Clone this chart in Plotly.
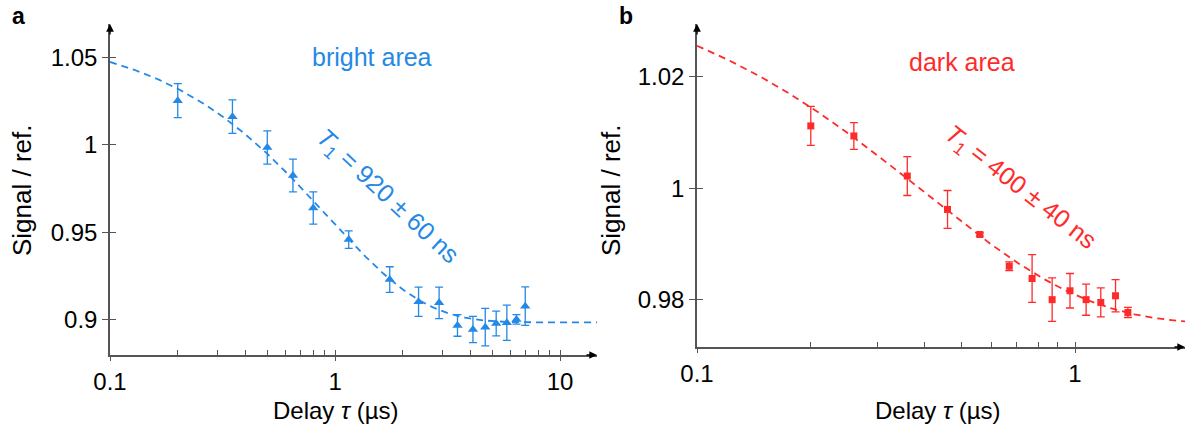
import numpy as np
import plotly.graph_objects as go

# ---- measured data -------------------------------------------------------
# (a) bright area
t_bright = [0.20, 0.35, 0.50, 0.65, 0.80, 1.15, 1.75, 2.35, 2.9, 3.5, 4.1, 4.65, 5.2, 5.8, 6.4, 7.0]
s_bright = [1.0252, 1.0161, 0.9985, 0.9825, 0.9639, 0.9459, 0.9231, 0.9104, 0.9098, 0.8969,
            0.8946, 0.8959, 0.8980, 0.8984, 0.9003, 0.9079]
e_bright = [0.0097, 0.0096, 0.0095, 0.0094, 0.0092, 0.0050, 0.0073, 0.0083, 0.0090, 0.0062,
            0.0075, 0.0107, 0.0071, 0.0101, 0.0027, 0.0110]

# (b) dark area
t_dark = [0.20, 0.26, 0.36, 0.46, 0.56, 0.67, 0.77, 0.87, 0.97, 1.07, 1.17, 1.28, 1.38]
s_dark = [1.0112, 1.0094, 1.0022, 0.9962, 0.9917, 0.9860, 0.9838, 0.9800, 0.9816, 0.9800,
          0.9795, 0.9807, 0.9777]
e_dark = [0.0035, 0.0024, 0.0035, 0.0034, 0.0003, 0.0008, 0.0043, 0.0039, 0.0031, 0.0028,
          0.0026, 0.0029, 0.0009]

# ---- exponential fits  y = offset + amp * exp(-t / T1) ---------------------
T1_bright, amp_bright, off_bright = 0.92, 0.1658, 0.8986
T1_dark, amp_dark, off_dark = 0.40, 0.0642, 0.9756

BLUE = "#2489e6"
RED = "#ff2b2b"
AXIS = "#555555"
FONT = "Liberation Sans, Arial, sans-serif"

xa_range = [-1, 1.164]
ya_range = [0.880, 1.069]
xb_range = [-1, 0.291]
yb_range = [0.9715, 1.0295]

W, H = 1194, 432
dom_xa = [110 / W, 597 / W]
dom_ya = [(H - 355) / H, (H - 24) / H]
dom_xb = [697 / W, 1185 / W]
dom_yb = [(H - 347) / H, (H - 24) / H]

ta = np.logspace(xa_range[0], xa_range[1], 300)
tb = np.logspace(xb_range[0], xb_range[1], 300)
fit_a = off_bright + amp_bright * np.exp(-ta / T1_bright)
fit_b = off_dark + amp_dark * np.exp(-tb / T1_dark)

fig = go.Figure()

fig.add_trace(go.Scatter(x=ta, y=fit_a, mode="lines", xaxis="x", yaxis="y",
                         line=dict(color=BLUE, width=1.8, dash="7px,5px"), hoverinfo="skip"))
fig.add_trace(go.Scatter(x=t_bright, y=s_bright, mode="markers", xaxis="x", yaxis="y",
                         marker=dict(symbol="triangle-up", size=9, color=BLUE),
                         error_y=dict(type="data", array=e_bright, color=BLUE, thickness=1.3, width=4)))

fig.add_trace(go.Scatter(x=tb, y=fit_b, mode="lines", xaxis="x2", yaxis="y2",
                         line=dict(color=RED, width=1.8, dash="7px,5px"), hoverinfo="skip"))
fig.add_trace(go.Scatter(x=t_dark, y=s_dark, mode="markers", xaxis="x2", yaxis="y2",
                         marker=dict(symbol="square", size=7, color=RED),
                         error_y=dict(type="data", array=e_dark, color=RED, thickness=1.3, width=4)))


def minor_vals(lo, hi):
    vals = []
    for d in range(int(np.floor(lo)), int(np.ceil(hi)) + 1):
        for m in range(1, 10):
            v = m * 10.0 ** d
            if 10 ** lo - 1e-9 <= v <= 10 ** hi:
                vals.append(v)
    return vals


tick_font = dict(family=FONT, size=24, color="black")

base_x = dict(type="log", showgrid=False, zeroline=False, showline=True, linecolor=AXIS,
              linewidth=1.5, ticks="outside", ticklen=4, tickcolor=AXIS, tickwidth=1,
              tickfont=tick_font, tickmode="array", automargin=False)
base_y = dict(showgrid=False, zeroline=False, showline=True, linecolor=AXIS, linewidth=1.5,
              ticks="outside", ticklen=6, tickcolor=AXIS, tickwidth=1, tickfont=tick_font,
              tickmode="array", automargin=False)

layout = dict(
    width=W, height=H, paper_bgcolor="white", plot_bgcolor="white",
    margin=dict(l=0, r=0, t=0, b=0), showlegend=False, font=dict(family=FONT),
    xaxis=dict(base_x, domain=dom_xa, range=xa_range, anchor="y",
               tickvals=[0.1, 1, 10], ticktext=["0.1", "1", "10"]),
    yaxis=dict(base_y, domain=dom_ya, range=ya_range, anchor="x",
               tickvals=[0.9, 0.95, 1, 1.05], ticktext=["0.9", "0.95", "1", "1.05"]),
    xaxis2=dict(base_x, domain=dom_xb, range=xb_range, anchor="y2",
                tickvals=[0.1, 1], ticktext=["0.1", "1"]),
    yaxis2=dict(base_y, domain=dom_yb, range=yb_range, anchor="x2",
                tickvals=[0.98, 1, 1.02], ticktext=["0.98", "1", "1.02"]),
    # inner tick marks (minor decades on x, crossing ticks on y)
    xaxis3=dict(type="log", overlaying="x", anchor="y", range=xa_range, showgrid=False,
                zeroline=False, showline=False, ticks="inside", ticklen=5, tickcolor=AXIS,
                tickwidth=1, tickmode="array", tickvals=minor_vals(*xa_range),
                showticklabels=False, automargin=False),
    yaxis3=dict(overlaying="y", anchor="x", range=ya_range, showgrid=False, zeroline=False,
                showline=False, ticks="inside", ticklen=6, tickcolor=AXIS, tickwidth=1,
                tickmode="array", tickvals=[0.9, 0.95, 1, 1.05], showticklabels=False,
                automargin=False),
    xaxis4=dict(type="log", overlaying="x2", anchor="y2", range=xb_range, showgrid=False,
                zeroline=False, showline=False, ticks="inside", ticklen=5, tickcolor=AXIS,
                tickwidth=1, tickmode="array", tickvals=minor_vals(*xb_range),
                showticklabels=False, automargin=False),
    yaxis4=dict(overlaying="y2", anchor="x2", range=yb_range, showgrid=False, zeroline=False,
                showline=False, ticks="inside", ticklen=6, tickcolor=AXIS, tickwidth=1,
                tickmode="array", tickvals=[0.98, 1, 1.02], showticklabels=False,
                automargin=False),
)
fig.update_layout(**layout)

# invisible traces so the overlay axes are drawn
fig.add_trace(go.Scatter(x=[0.1], y=[0.9], xaxis="x3", yaxis="y3", mode="markers",
                         marker=dict(opacity=0), hoverinfo="skip"))
fig.add_trace(go.Scatter(x=[0.1], y=[1.0], xaxis="x4", yaxis="y4", mode="markers",
                         marker=dict(opacity=0), hoverinfo="skip"))

ann = []


def label(px, py, text, size, color="black", angle=0):
    ann.append(dict(xref="paper", yref="paper", x=px / W, y=1 - py / H, text=text,
                    xanchor="center", yanchor="middle", textangle=angle, showarrow=False,
                    font=dict(family=FONT, size=size, color=color)))


# arrowheads at the axis ends
for xd, yd in [(dom_xa, dom_ya), (dom_xb, dom_yb)]:
    ann.append(dict(xref="paper", yref="paper", x=xd[1], y=yd[0], ax=-12, ay=0, text="",
                    showarrow=True, arrowhead=2, arrowsize=1.1, arrowwidth=1.4,
                    arrowcolor="black"))
    ann.append(dict(xref="paper", yref="paper", x=xd[0], y=yd[1], ax=0, ay=12, text="",
                    showarrow=True, arrowhead=2, arrowsize=1.1, arrowwidth=1.4,
                    arrowcolor="black"))

# axis titles
label(336, 410, "Delay <i>τ</i> (µs)", 24)
label(938, 410, "Delay <i>τ</i> (µs)", 24)
label(22, 190, "Signal / ref.", 26, angle=-90)
label(611, 190, "Signal / ref.", 26, angle=-90)

# panel letters
label(18, 16, "<b>a</b>", 23)
label(626, 16, "<b>b</b>", 23)

# region labels
label(372, 57, "bright area", 25, BLUE)
label(962, 62, "dark area", 25, RED)

# fitted lifetimes
label(387, 197, f"<i>T</i><sub>1</sub> = {round(T1_bright * 1000)} ± 60 ns", 25, BLUE, 43)
label(1020, 188, f"<i>T</i><sub>1</sub> = {round(T1_dark * 1000)} ± 40 ns", 25, RED, 38)

fig.update_layout(annotations=ann)
fig.write_html("out.html")
